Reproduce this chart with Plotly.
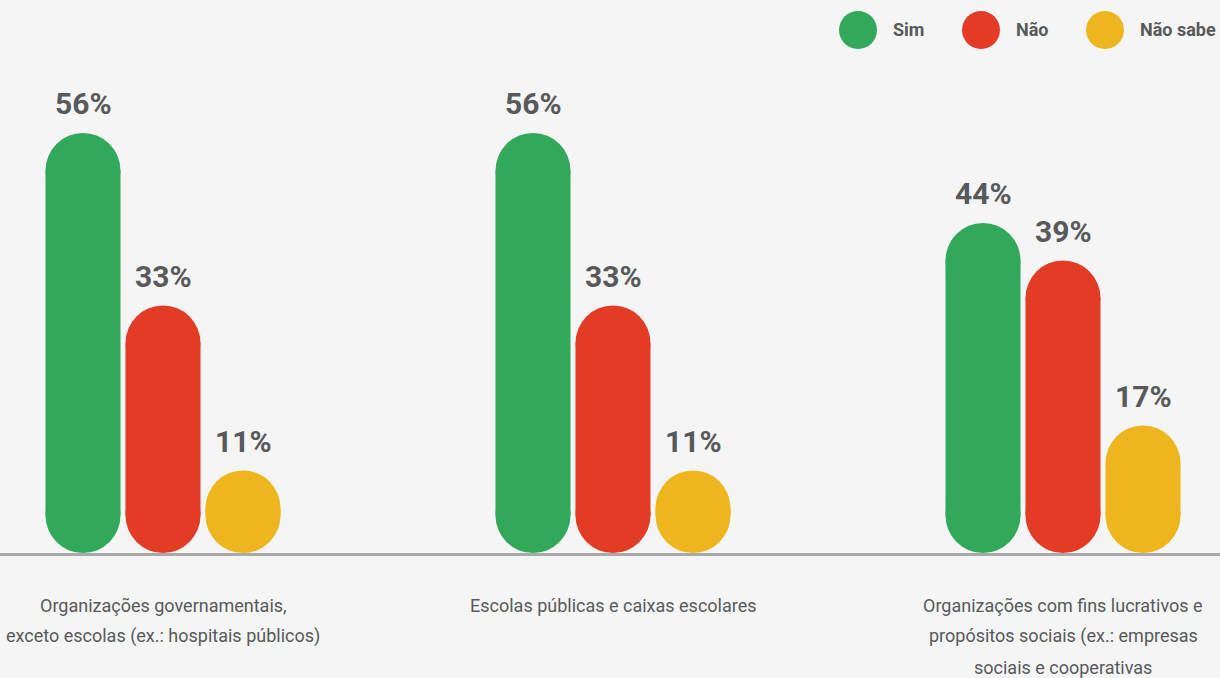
import plotly.graph_objects as go

# Dados
categorias = [
    "Organizações governamentais,<br>exceto escolas (ex.: hospitais públicos)",
    "Escolas públicas e caixas escolares",
    "Organizações com fins lucrativos e<br>propósitos sociais (ex.: empresas<br>sociais e cooperativas",
]
series = ["Sim", "Não", "Não sabe"]
sim = [56, 56, 44]
nao = [33, 33, 39]
nao_sabe = [11, 11, 17]
valores = [sim, nao, nao_sabe]
cores = ["#32a85a", "#e33c26", "#eeb61e"]

FONTE = "Roboto, Liberation Sans, sans-serif"
CINZA = "#58595b"
FUNDO = "#f4f5f4"

# Geometria
W, H = 1220, 678
TOPO, BASE = 60, 125
alto_plot = H - TOPO - BASE          # 493 px
px_por_ponto = 7.5                   # escala vertical
px_por_grupo = 450
centro0 = 163                        # pixel do primeiro grupo
barra_px = 75
largura = barra_px / px_por_grupo    # largura da barra em unidades x
passo = 80 / px_por_grupo            # distancia entre barras do grupo
raio = (barra_px / 2) / px_por_ponto # raio das pontas em unidades y
x_cat = list(range(len(categorias)))

fig = go.Figure()
anotacoes = []

for j, (nome, vals, cor) in enumerate(zip(series, valores, cores)):
    xs = [c + (j - 1) * passo for c in x_cat]
    # corpo reto da barra
    fig.add_trace(go.Bar(
        x=xs, y=[v - 2 * raio for v in vals], base=[raio] * len(vals),
        width=largura, marker=dict(color=cor, line=dict(width=0)),
        name=nome, showlegend=False, hoverinfo="skip"))
    # pontas arredondadas (em cima e embaixo)
    fig.add_trace(go.Scatter(
        x=xs + xs, y=[v - raio for v in vals] + [raio] * len(vals),
        mode="markers", marker=dict(color=cor, size=barra_px, line=dict(width=0)),
        name=nome, showlegend=False, hoverinfo="skip", cliponaxis=False))
    for x, v in zip(xs, vals):
        anotacoes.append(dict(
            x=x, y=v, xref="x", yref="y", text=f"<b>{v}%</b>", showarrow=False,
            yanchor="bottom", yshift=10,
            font=dict(family=FONTE, size=30, color=CINZA)))

# Rotulos das categorias (uma anotacao por linha)
for c, texto in zip(x_cat, categorias):
    for k, linha in enumerate(texto.split("<br>")):
        anotacoes.append(dict(
            x=c, y=0, xref="x", yref="paper", text=linha, showarrow=False,
            yanchor="middle", yshift=-(52 + 31 * k),
            font=dict(family=FONTE, size=18, color=CINZA)))

# Legenda desenhada a mao (circulos grandes)
formas = []
leg_x = [858, 981, 1105]
leg_y = (alto_plot + TOPO - 30) / alto_plot
for px, nome, cor in zip(leg_x, series, cores):
    formas.append(dict(
        type="circle", xref="paper", yref="paper",
        xsizemode="pixel", ysizemode="pixel",
        xanchor=px / W, yanchor=leg_y,
        x0=-19, x1=19, y0=-19, y1=19,
        fillcolor=cor, line=dict(width=0)))
    anotacoes.append(dict(
        x=(px + 33) / W, y=leg_y, xref="paper", yref="paper",
        text=f"<b>{nome}</b>", showarrow=False, xanchor="left", yanchor="middle",
        font=dict(family=FONTE, size=18, color=CINZA)))

fig.update_layout(
    width=W, height=H,
    margin=dict(l=0, r=0, t=TOPO, b=BASE),
    paper_bgcolor=FUNDO, plot_bgcolor=FUNDO,
    barmode="overlay",
    showlegend=False,
    annotations=anotacoes,
    shapes=formas,
    xaxis=dict(
        range=[-centro0 / px_por_grupo, (W - centro0) / px_por_grupo],
        showticklabels=False, ticks="",
        showline=True, linecolor="#a7a9ab", linewidth=3,
        showgrid=False, zeroline=False, fixedrange=True),
    yaxis=dict(
        range=[0, alto_plot / px_por_ponto], visible=False, showgrid=False,
        zeroline=False, fixedrange=True),
)

fig.write_html("out.html", config={"displayModeBar": False},
               post_script="document.body.style.margin='0';")
